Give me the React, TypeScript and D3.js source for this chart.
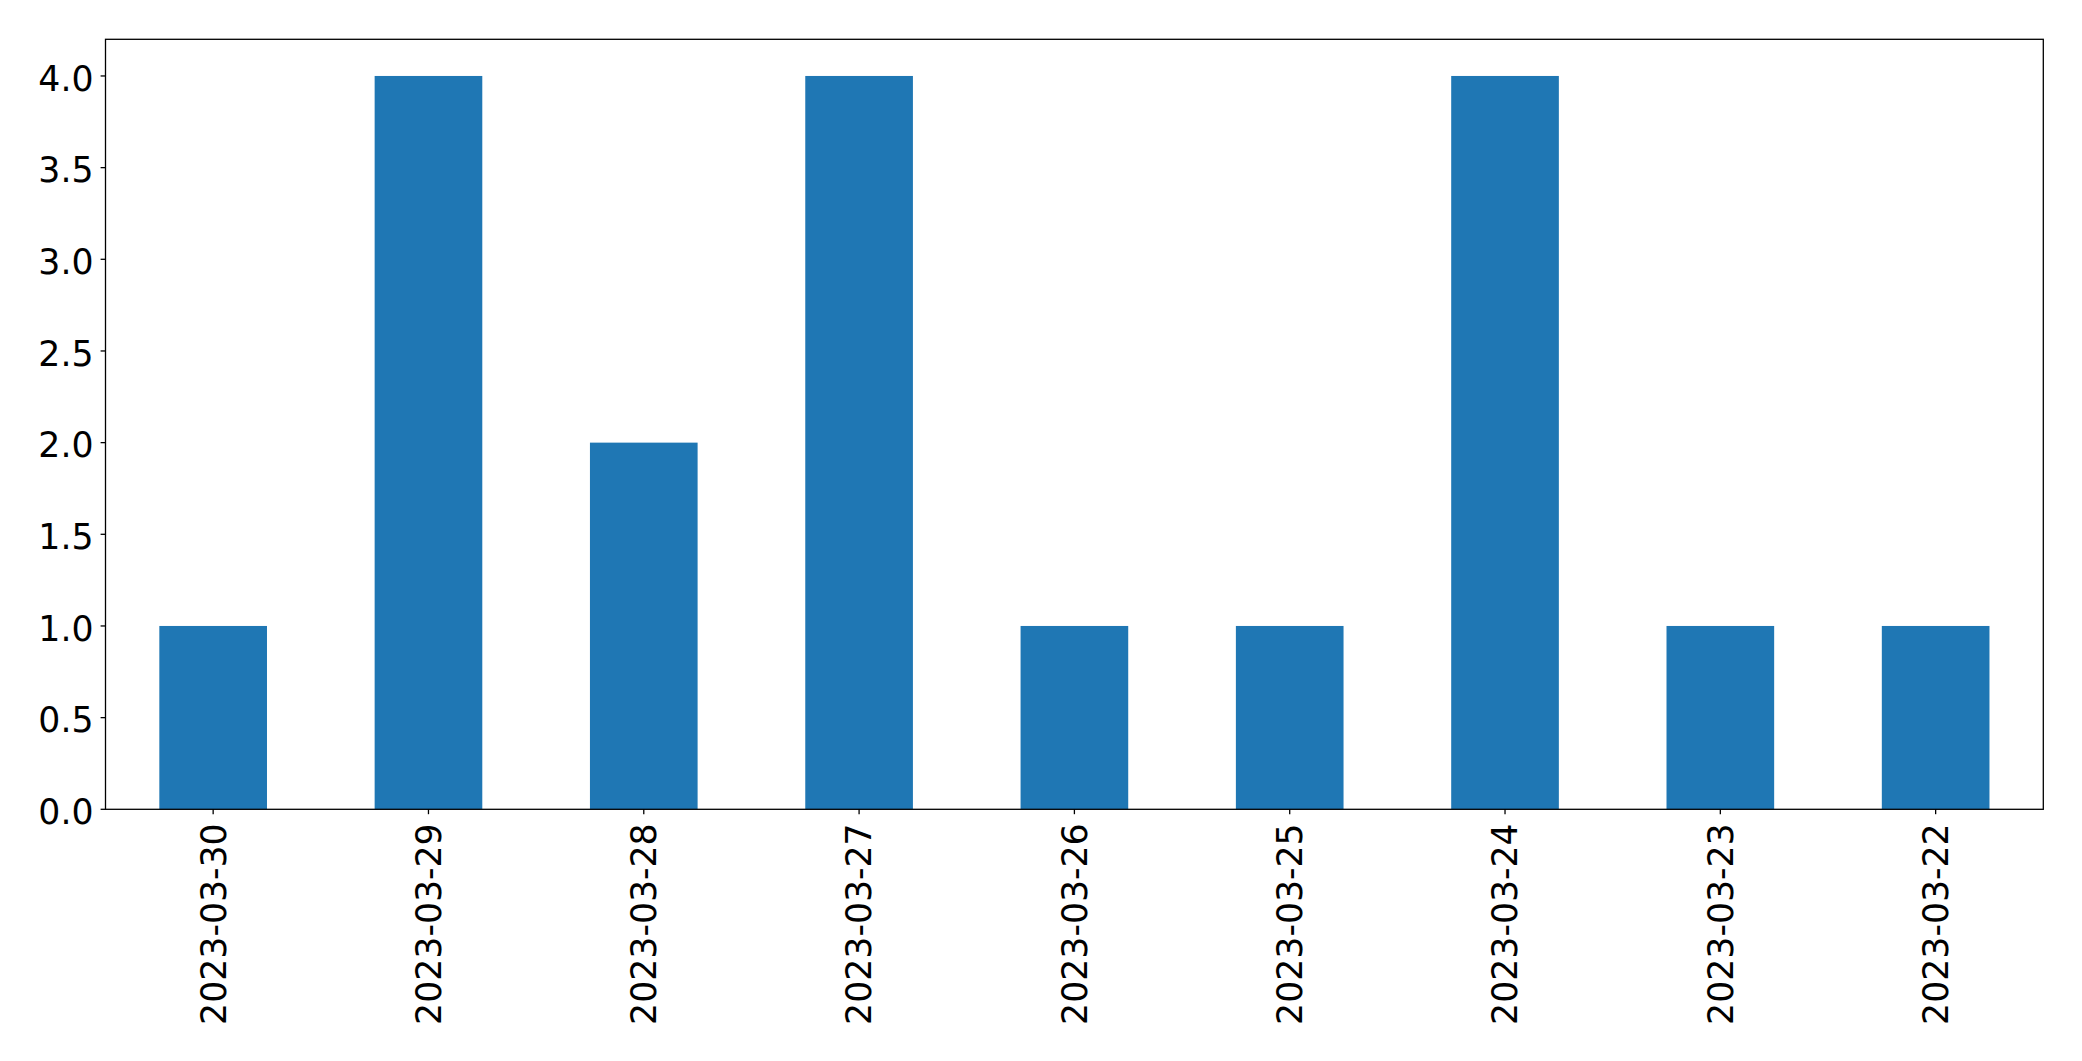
import React from "react";
import * as d3 from "d3";

const categories = ["2023-03-30","2023-03-29","2023-03-28","2023-03-27","2023-03-26","2023-03-25","2023-03-24","2023-03-23","2023-03-22"];
const values = [1,4,2,4,1,1,4,1,1];
const yTicks = [0,0.5,1,1.5,2,2.5,3,3.5,4];

const W = 2082, H = 1061;
const L = 105.5, R = 2043.3, T = 39.3, B = 809.3;
const FONT = "'DejaVu Sans', sans-serif";
const FS = 34.7;

export default function App() {
  const x = d3.scaleLinear().domain([-0.5, categories.length - 0.5]).range([L, R]);
  const y = d3.scaleLinear().domain([0, 4.2]).range([B, T]);
  const bw = x(0.5) - x(0);
  return (
    <svg width={W} height={H} style={{ position: "absolute", left: 0, top: 0 }}>
      <rect width={W} height={H} fill="#fff" />
      {values.map((v, i) => (
        <rect key={i} x={x(i) - bw / 2} y={y(v)} width={bw} height={y(0) - y(v)} fill="#1f77b4" />
      ))}
      <rect x={L} y={T} width={R - L} height={B - T} fill="none" stroke="#000" strokeWidth={1.3} />
      {yTicks.map((t) => (
        <g key={t}>
          <line x1={L - 4.9} x2={L} y1={y(t)} y2={y(t)} stroke="#000" strokeWidth={1.3} />
          <text x={L - 12} y={y(t) + 14.8} textAnchor="end" fontFamily={FONT} fontSize={FS} fill="#000">
            {t.toFixed(1)}
          </text>
        </g>
      ))}
      {categories.map((c, i) => (
        <g key={c}>
          <line x1={x(i)} x2={x(i)} y1={B} y2={B + 4.9} stroke="#000" strokeWidth={1.3} />
          <text transform={`translate(${x(i)},${B + 14}) rotate(-90)`} y={12.4} textAnchor="end" fontFamily={FONT} fontSize={FS} fill="#000">
            {c}
          </text>
        </g>
      ))}
    </svg>
  );
}
